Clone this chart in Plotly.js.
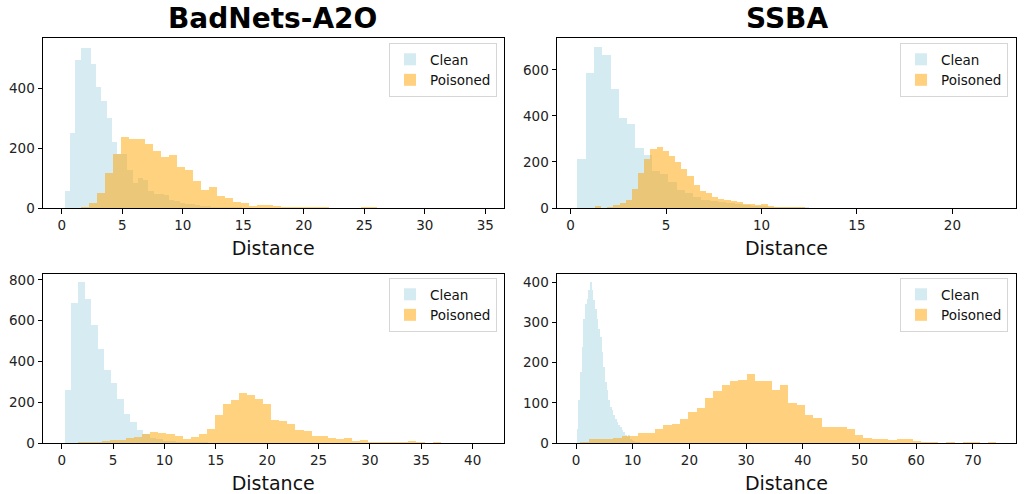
<!DOCTYPE html>
<html>
<head>
<meta charset="utf-8">
<script src="https://cdn.plot.ly/plotly-3.0.1.min.js"></script>
<style>
  html, body { margin: 0; padding: 0; background: #fff; }
  #chart { width: 1031px; height: 494px; }
</style>
</head>
<body>
<div id="chart"></div>
<script>
// ---------- Data (histogram counts, 50 bins each) ----------
const panelTitles = ["BadNets-A2O", "SSBA"];
const seriesNames = ["Clean", "Poisoned"];
const xLabel = "Distance";

// Top-left: BadNets-A2O (row 1)
const tlCleanStart = 0.27, tlCleanWidth = 0.43;
const tlCleanCounts = [57,252,497,538,538,482,407,358,302,222, 182,180,128,85,100,95,57,47,46,44, 26,22,18,15,12,10,8,6,5,4, 3,3,2,2,1,1,1,1,0,1, 0,0,0,0,0,0,0,0,0,1];
const tlPoisonStart = 1.62, tlPoisonWidth = 0.66;
const tlPoisonCounts = [5,18,49,118,182,238,231,231,216,190, 170,179,136,127,90,60,70,41,32,19, 18,6,10,10,7,3,3,3,3,3, 3,1,0,1,0,4,4,0,0,0, 0,0,0,0,0,0,0,0,0,1];

// Top-right: SSBA (row 1)
const trCleanStart = 0.36, trCleanWidth = 0.433;
const trCleanCounts = [215,585,701,665,517,392,366,263,231,163, 149,111,79,65,48,36,30,25,20,16, 12,10,8,6,5,5,3,3,2,2, 1,1,1,1,0,1,0,0,0,0, 0,0,0,0,0,0,0,0,0,1];
const trPoisonStart = 1.276, trPoisonWidth = 0.323;
const trPoisonCounts = [7,2,4,11,22,33,82,152,214,255, 267,248,224,200,171,140,101,74,64,46, 39,36,29,24,19,19,14,17,7,5, 4,4,6,6,0,1,0,0,0,0, 0,0,0,0,0,0,0,0,0,1];

// Bottom-left: BadNets-A2O (row 2)
const blCleanStart = 0.32, blCleanWidth = 0.633;
const blCleanCounts = [259,688,788,705,578,460,357,292,218,141, 103,62,42,25,18,12,9,7,5,4, 3,3,2,2,1,1,1,1,0,1, 0,0,0,0,0,0,0,0,0,0, 0,0,0,0,0,0,0,0,0,1];
const blPoisonStart = 1.56, blPoisonWidth = 0.785;
const blPoisonCounts = [3,5,5,8,13,17,25,30,46,54, 48,43,36,21,30,42,71,136,189,210, 243,234,215,190,112,107,95,62,57,34, 33,26,18,23,10,13,5,3,3,3, 3,10,3,1,5,0,0,0,0,1];

// Bottom-right: SSBA (row 2)
const brCleanStart = 0.12, brCleanWidth = 0.294;
const brCleanCounts = [34,106,177,239,309,347,359,380,400,380, 355,334,309,285,264,226,189,152,131,106, 90,81,69,61,53,44,40,32,28,21, 16,20,11,7,5,3,2,2,1,1, 1,0,1,0,0,0,0,0,0,1];
const brPoisonStart = 0.74, brPoisonWidth = 1.468;
const brPoisonCounts = [3,10,10,10,12,18,18,25,26,36, 44,48,61,76,86,112,129,145,154,158, 173,154,154,131,144,100,95,69,63,40, 40,40,34,19,13,9,11,7,9,11, 4,2,2,0,2,0,2,2,0,2];

// ---------- Build ----------
const W = 1031, H = 494;
const FONT = "DejaVu Sans, Liberation Sans, sans-serif";
const cleanColor = "#ADD8E6";
const poisonColor = "#FFA500";

function centers(start, width, n) {
  const out = [];
  for (let i = 0; i < n; i++) out.push(start + (i + 0.5) * width);
  return out;
}

const panels = [
  {ax: "", leg: "legend", cs: tlCleanStart, cw: tlCleanWidth, cc: tlCleanCounts, ps: tlPoisonStart, pw: tlPoisonWidth, pc: tlPoisonCounts},
  {ax: "2", leg: "legend2", cs: trCleanStart, cw: trCleanWidth, cc: trCleanCounts, ps: trPoisonStart, pw: trPoisonWidth, pc: trPoisonCounts},
  {ax: "3", leg: "legend3", cs: blCleanStart, cw: blCleanWidth, cc: blCleanCounts, ps: blPoisonStart, pw: blPoisonWidth, pc: blPoisonCounts},
  {ax: "4", leg: "legend4", cs: brCleanStart, cw: brCleanWidth, cc: brCleanCounts, ps: brPoisonStart, pw: brPoisonWidth, pc: brPoisonCounts},
];

const traces = [];
panels.forEach(p => {
  traces.push({
    type: "bar", name: seriesNames[0],
    x: centers(p.cs, p.cw, p.cc.length), y: p.cc, width: p.cw,
    marker: {color: cleanColor, line: {width: 0}}, opacity: 0.5,
    xaxis: "x" + p.ax, yaxis: "y" + p.ax, legend: p.leg, hoverinfo: "x+y"
  });
  traces.push({
    type: "bar", name: seriesNames[1],
    x: centers(p.ps, p.pw, p.pc.length), y: p.pc, width: p.pw,
    marker: {color: poisonColor, line: {width: 0}}, opacity: 0.5,
    xaxis: "x" + p.ax, yaxis: "y" + p.ax, legend: p.leg, hoverinfo: "x+y"
  });
});

// pixel -> paper helpers
const px = v => v / W;
const py = v => 1 - v / H;

const leftDom = [px(43), px(503.5)];
const rightDom = [px(557), px(1016)];
const topDom = [py(208), py(38)];
const botDom = [py(443), py(274)];

function xAxis(domain, range, dtick, anchor) {
  return {
    domain, range, dtick, tick0: 0, anchor,
    showline: true, mirror: true, linecolor: "#000", linewidth: 1,
    ticks: "outside", ticklen: 4.5, tickwidth: 1, tickcolor: "#000",
    showgrid: false, zeroline: false,
    tickfont: {family: FONT, size: 13.5, color: "#222"},
    title: {text: xLabel, font: {family: FONT, size: 19, color: "#111"}, standoff: 9},
    automargin: false
  };
}
function yAxis(domain, range, dtick, anchor) {
  return {
    domain, range, dtick, tick0: 0, anchor,
    showline: true, mirror: true, linecolor: "#000", linewidth: 1,
    ticks: "outside", ticklen: 4.5, tickwidth: 1, tickcolor: "#000",
    showgrid: false, zeroline: false,
    tickfont: {family: FONT, size: 13.5, color: "#222"},
    automargin: false
  };
}
function legendAt(rightPx, topPx) {
  return {
    x: px(rightPx), y: py(topPx), xanchor: "right", yanchor: "top",
    bgcolor: "rgba(255,255,255,0.8)", bordercolor: "#d6d6d6", borderwidth: 1,
    font: {family: FONT, size: 13.5, color: "#111"},
    tracegroupgap: 0, itemwidth: 30
  };
}

const layout = {
  width: W, height: H,
  margin: {l: 0, r: 0, t: 0, b: 0},
  paper_bgcolor: "#fff", plot_bgcolor: "#fff",
  barmode: "overlay", bargap: 0,
  xaxis:  xAxis(leftDom,  [-1.55, 36.5], 5, "y"),
  yaxis:  yAxis(topDom,   [0, 570], 200, "x"),
  xaxis2: xAxis(rightDom, [-0.71, 23.33], 5, "y2"),
  yaxis2: yAxis(topDom,   [0, 739], 200, "x2"),
  xaxis3: xAxis(leftDom,  [-1.82, 43.0], 5, "y3"),
  yaxis3: yAxis(botDom,   [0, 829], 200, "x3"),
  xaxis4: xAxis(rightDom, [-3.35, 77.6], 10, "y4"),
  yaxis4: yAxis(botDom,   [0, 421], 100, "x4"),
  legend:  legendAt(497, 43),
  legend2: legendAt(1008, 43),
  legend3: legendAt(497, 278),
  legend4: legendAt(1008, 278),
  annotations: [
    {text: "<b>" + panelTitles[0] + "</b>", xref: "paper", yref: "paper",
     x: px(272), y: py(19), xanchor: "center", yanchor: "middle", showarrow: false,
     font: {family: FONT, size: 28, color: "#000"}},
    {text: "<b>" + panelTitles[1] + "</b>", xref: "paper", yref: "paper",
     x: px(786.5), y: py(19), xanchor: "center", yanchor: "middle", showarrow: false,
     font: {family: FONT, size: 28, color: "#000"}}
  ]
};

Plotly.newPlot("chart", traces, layout, {displayModeBar: false, staticPlot: true});
</script>
</body>
</html>
